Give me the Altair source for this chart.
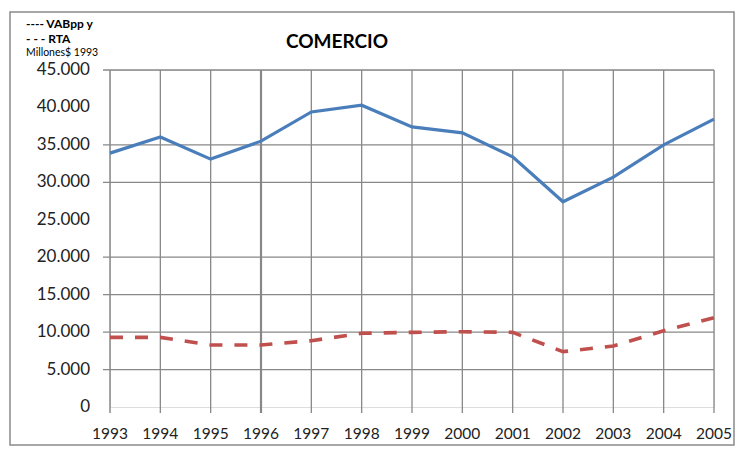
import altair as alt
import pandas as pd

years = list(range(1993, 2006))
vab = [33900, 36050, 33100, 35500, 39400, 40300, 37400, 36600, 33400, 27400, 30700, 35000, 38450]
rta = [9300, 9300, 8280, 8280, 8850, 9840, 9970, 10050, 9970, 7390, 8140, 10190, 11920]

y_ticks = [0, 5000, 10000, 15000, 20000, 25000, 30000, 35000, 40000, 45000]
h_grid = [5000, 10000, 15000, 20000, 30000, 35000, 45000]
v_grid = list(range(1994, 2006))

title_txt = "COMERCIO"
legend_vab = "---- VABpp y"
legend_rta = "- - - RTA"
unit_txt = "Millones$ 1993"

W, H = 604, 337
FONT = "Lato"
GRAY = "#888888"

df = pd.DataFrame({"year": years, "vab": vab, "rta": rta})

xs = alt.Scale(domain=[1993, 2005], nice=False, zero=False)
ys = alt.Scale(domain=[0, 45000], nice=False)

hgrid = alt.Chart(pd.DataFrame({"v": h_grid})).mark_rule(color=GRAY, strokeWidth=1.3).encode(
    y=alt.Y("v:Q", scale=ys, axis=None),
    x=alt.value(-7), x2=alt.value(W))

vgrid = alt.Chart(pd.DataFrame({"yr": v_grid, "w": [1.3 if y != 1996 else 2.2 for y in v_grid]})).mark_rule(
    color=GRAY).encode(
    x=alt.X("yr:Q", scale=xs, axis=None),
    y=alt.value(0), y2=alt.value(H + 6),
    strokeWidth=alt.StrokeWidth("w:Q", scale=None, legend=None))

yaxis_line = alt.Chart(pd.DataFrame({"yr": [1993]})).mark_rule(color=GRAY, strokeWidth=1.5).encode(
    x=alt.X("yr:Q", scale=xs, axis=None), y=alt.value(0), y2=alt.value(H + 6))

ylabels = alt.Chart(pd.DataFrame({"v": y_ticks})).transform_calculate(
    lab="replace(format(datum.v, ','), ',', '.')").mark_text(
    font=FONT, fontSize=17, color="#222222", align="right", baseline="middle").encode(
    y=alt.Y("v:Q", scale=ys, axis=None), x=alt.value(-20), text="lab:N")

xlabels = alt.Chart(pd.DataFrame({"yr": years})).transform_calculate(
    lab="format(datum.yr, 'd')").mark_text(
    font=FONT, fontSize=15.5, color="#222222", align="center", baseline="middle").encode(
    x=alt.X("yr:Q", scale=xs, axis=None), y=alt.value(H + 27), text="lab:N")

line_vab = alt.Chart(df).mark_line(color="#4a7ebb", strokeWidth=3.2).encode(
    x=alt.X("year:Q", scale=xs, axis=None),
    y=alt.Y("vab:Q", scale=ys, axis=None))

line_rta = alt.Chart(df).mark_line(color="#c0504d", strokeWidth=3.6, strokeDash=[13, 12]).encode(
    x=alt.X("year:Q", scale=xs, axis=None),
    y=alt.Y("rta:Q", scale=ys, axis=None))

frame = alt.Chart(pd.DataFrame({"a": [0]})).mark_rect(fill=None, stroke="#8a8a8a", strokeWidth=1.5).encode(
    x=alt.value(-100), x2=alt.value(624), y=alt.value(-58), y2=alt.value(375))

def txt(t, x, y, size, align="left", weight="bold"):
    return alt.Chart(pd.DataFrame({"t": [t]})).mark_text(
        font=FONT, fontSize=size, fontWeight=weight, color="#000000", align=align, baseline="middle").encode(
        text="t:N", x=alt.value(x), y=alt.value(y))

title = txt(title_txt, 227, -28, 19, align="center")
leg1 = txt(legend_vab, -84, -46, 12)
leg2 = txt(legend_rta, -84, -31, 12)
unit = txt(unit_txt, -84, -17, 10.5, weight="normal")

chart = alt.layer(frame, hgrid, vgrid, yaxis_line, line_rta, line_vab, ylabels, xlabels,
                  title, leg1, leg2, unit).properties(
    width=W, height=H,
    autosize=alt.AutoSizeParams(type="none"),
    padding={"left": 102, "top": 62, "right": 22, "bottom": 40},
).configure_view(stroke=None).configure(background="white")

chart.save("out.html", embed_options={"renderer": "svg", "actions": False})
